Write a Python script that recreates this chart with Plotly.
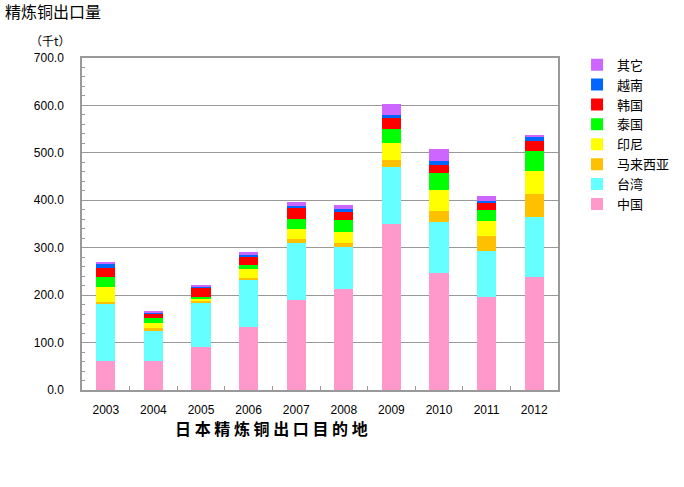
import plotly.graph_objects as go

years = ["2003", "2004", "2005", "2006", "2007", "2008", "2009", "2010", "2011", "2012"]

china     = [62, 62, 91, 133.5, 189, 212, 350.6, 246.7, 196, 237.6]
taiwan    = [121, 62, 93, 100, 120, 90, 119.5, 107.5, 97.7, 127.8]
malaysia  = [3, 7, 3.5, 2, 9, 8, 15.5, 22.5, 31.6, 48.6]
indonesia = [31, 10, 4.5, 19, 21.5, 23, 35, 45, 31, 47]
thailand  = [21, 11.5, 3.5, 9, 21, 26, 29.5, 36.5, 23.7, 43]
korea     = [20, 8.5, 21.5, 17.5, 23.5, 17, 24, 16.5, 15, 21]
vietnam   = [8, 2, 0.5, 3, 4.5, 5.5, 5.5, 9, 4, 10]
other     = [4.5, 3, 2.5, 7, 8.5, 9, 23.5, 24, 10.7, 3]

series_names = ["中国", "台湾", "马来西亚", "印尼", "泰国", "韩国", "越南", "其它"]
series_vals = [china, taiwan, malaysia, indonesia, thailand, korea, vietnam, other]
colors = ["#FF99CC", "#66FFFF", "#FFC000", "#FFFF00", "#00FF00", "#FF0000", "#0066FF", "#CC66FF"]

y_ticks = [0, 100, 200, 300, 400, 500, 600, 700]

x_title = "日本精炼铜出口目的地"

fig = go.Figure()
for name, vals, c in zip(series_names, series_vals, colors):
    fig.add_trace(go.Bar(x=years, y=vals, name=name, marker=dict(color=c, line=dict(width=0))))

fig.update_layout(
    barmode="stack",
    bargap=0.6,
    width=684, height=487,
    margin=dict(l=82, r=126, t=58, b=97, autoexpand=False),
    paper_bgcolor="white", plot_bgcolor="white",
    font=dict(family="Liberation Sans, Arial, sans-serif", size=12, color="black"),
    legend=dict(
        x=1.04, y=1.025, xanchor="left", yanchor="top",
        traceorder="reversed",
        font=dict(family="Noto Sans CJK SC", size=13, color="black"),
        bgcolor="rgba(0,0,0,0)",
        itemwidth=30,
        tracegroupgap=0,
    ),
    showlegend=True,
    xaxis=dict(
        showline=True, linecolor="#999999", linewidth=1.5, mirror=True,
        ticks="inside", ticklen=4, tickcolor="#999999",
        tickson="boundaries",
        ticklabelstandoff=8,
        tickfont=dict(size=12),
    ),
    yaxis=dict(
        range=[0, 700], tickvals=y_ticks, tickformat=".1f",
        showline=True, linecolor="#999999", linewidth=1.5, mirror=True,
        showgrid=True, gridcolor="#999999", gridwidth=1,
        ticks="inside", ticklen=4, tickcolor="#999999",
        minor=dict(dtick=20, ticks="inside", ticklen=3, tickcolor="#999999", showgrid=False),
        ticklabelstandoff=14,
        tickfont=dict(size=12),
        zeroline=False,
    ),
    annotations=[
        dict(text="精炼铜出口量", xref="paper", yref="paper", x=-0.165, y=1.143,
             xanchor="left", yanchor="middle", showarrow=False,
             font=dict(family="Noto Sans CJK SC", size=16, color="black")),
        dict(text="（千t）", xref="paper", yref="paper", x=-0.114, y=1.054,
             xanchor="left", yanchor="middle", showarrow=False,
             font=dict(family="Noto Sans CJK SC", size=12, color="black")),
        dict(text="<b>" + " ".join(x_title) + "</b>", xref="paper", yref="paper",
             x=0.399, y=-0.1145, xanchor="center", yanchor="middle", showarrow=False,
             font=dict(family="Noto Sans CJK SC", size=16, color="black")),
    ],
)

fig.write_html("out.html", config={"displayModeBar": False},
               post_script="document.body.style.margin='0';document.body.style.padding='0';")
